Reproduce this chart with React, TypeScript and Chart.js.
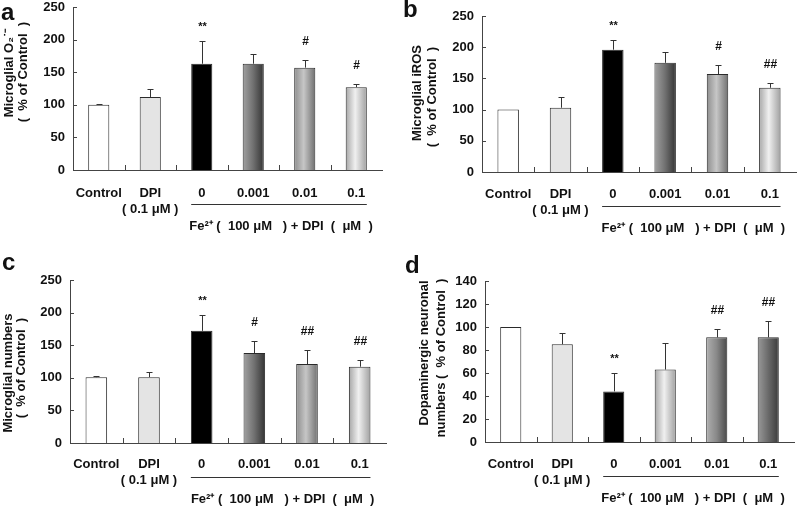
import React, { useEffect, useRef } from "react";
import { Chart, registerables } from "chart.js";

Chart.register(...registerables);

// ---------- data ----------
const categories: (string | string[])[] = ["Control", ["DPI", "( 0.1 μM )"], "0", "0.001", "0.01", "0.1"];
const groupLabel = "Fe²⁺ (  100 μM   ) + DPI  (  μM  )";

const o2Values = [100, 112, 163, 163, 157, 127];
const o2Errors = [1, 13, 35, 15, 11, 5];
const o2Marks = ["", "", "**", "", "#", "#"];
const o2Title = ["Microglial O₂˙⁻", "(  % of Control  )"];
const o2Axis = { max: 250, step: 50 };

const rosValues = [100, 103, 196, 175, 157, 135];
const rosErrors = [0, 17, 15, 18, 15, 7];
const rosMarks = ["", "", "**", "", "#", "##"];
const rosTitle = ["Microglial iROS", "(  % of Control  )"];
const rosAxis = { max: 250, step: 50 };

const numValues = [101, 101, 172, 138, 121, 117];
const numErrors = [1, 8, 25, 19, 22, 10];
const numMarks = ["", "", "**", "#", "##", "##"];
const numTitle = ["Microglial numbers", "(  % of Control  )"];
const numAxis = { max: 250, step: 50 };

const daValues = [100, 85, 44, 63, 91, 91];
const daErrors = [0, 10, 16, 23, 7, 14];
const daMarks = ["", "", "**", "", "##", "##"];
const daTitle = ["Dopaminergic neuronal", "numbers (  % of Control  )"];
const daAxis = { max: 140, step: 20 };

// ---------- styles ----------
const FONT = "'Liberation Sans', Arial, Helvetica, sans-serif";
const W = 400;
const H = 253;

type Grad = { stops: [number, string][] };
type Fill = string | Grad;

const G_DARK: Grad = { stops: [[0, "#a2a2a2"], [0.5, "#707070"], [1, "#333333"]] };
const G_MID: Grad = { stops: [[0, "#8e8e8e"], [0.45, "#c6c6c6"], [1, "#707070"]] };
const G_LIGHT: Grad = { stops: [[0, "#a6a6a6"], [0.45, "#f0f0f0"], [1, "#a0a0a0"]] };
const G_DMID: Grad = { stops: [[0, "#b0b0b0"], [0.5, "#888888"], [1, "#4a4a4a"]] };
const G_DDARK: Grad = { stops: [[0, "#9a9a9a"], [0.5, "#6a6a6a"], [1, "#3a3a3a"]] };

const fillsABC: Fill[] = ["#ffffff", "#e4e4e4", "#000000", G_DARK, G_MID, G_LIGHT];
const fillsD: Fill[] = ["#ffffff", "#e4e4e4", "#000000", G_LIGHT, G_DMID, G_DDARK];

type PanelSpec = {
  letter: string;
  letterPos: [number, number];
  ox: number;
  oy: number;
  area: { left: number; right: number; top: number; bottom: number };
  values: number[];
  errors: number[];
  marks: string[];
  title: string[];
  titlePos: [number, number][];
  axis: { max: number; step: number };
  fills: Fill[];
  labelPad: number;
};

const panels: PanelSpec[] = [
  {
    letter: "a", letterPos: [1, 20], ox: 0, oy: 0,
    area: { left: 73, right: 382, top: 7, bottom: 170 },
    values: o2Values, errors: o2Errors, marks: o2Marks, title: o2Title,
    titlePos: [[9, 73], [23, 72]], axis: o2Axis, fills: fillsABC, labelPad: 15,
  },
  {
    letter: "b", letterPos: [3, 17], ox: 400, oy: 0,
    area: { left: 82, right: 396, top: 16, bottom: 172 },
    values: rosValues, errors: rosErrors, marks: rosMarks, title: rosTitle,
    titlePos: [[17, 93], [32, 97]], axis: rosAxis, fills: fillsABC, labelPad: 14,
  },
  {
    letter: "c", letterPos: [2, 17], ox: 0, oy: 253,
    area: { left: 70, right: 386, top: 27, bottom: 190 },
    values: numValues, errors: numErrors, marks: numMarks, title: numTitle,
    titlePos: [[8, 120], [21, 115]], axis: numAxis, fills: fillsABC, labelPad: 13,
  },
  {
    letter: "d", letterPos: [5, 20], ox: 400, oy: 253,
    area: { left: 85, right: 394, top: 28, bottom: 189 },
    values: daValues, errors: daErrors, marks: daMarks, title: daTitle,
    titlePos: [[24, 100], [41, 105]], axis: daAxis, fills: fillsD, labelPad: 14,
  },
];

const BAR_PCT = 0.41;

function resolveFill(c: any, f: Fill) {
  if (typeof f === "string") return f;
  const chart = c.chart;
  const xs = chart.scales && chart.scales.x;
  if (!xs || !chart.chartArea) return f.stops[1][1];
  const cx = xs.getPixelForValue(c.dataIndex);
  const half = (xs.width / categories.length) * BAR_PCT / 2;
  const g = chart.ctx.createLinearGradient(cx - half, 0, cx + half, 0);
  f.stops.forEach(([o, col]) => g.addColorStop(o, col));
  return g;
}

function makePlugin(p: PanelSpec) {
  return {
    id: "decor",
    afterDatasetsDraw(chart: any) {
      const { ctx } = chart;
      const y = chart.scales.y;
      const meta = chart.getDatasetMeta(0);
      ctx.save();
      ctx.strokeStyle = "#333";
      ctx.lineWidth = 1;
      p.values.forEach((v, i) => {
        const bar = meta.data[i];
        const cx = Math.round(bar.x) + 0.5;
        const e = p.errors[i];
        const top = Math.round(y.getPixelForValue(v + e)) + 0.5;
        if (e > 0) {
          ctx.beginPath();
          ctx.moveTo(cx, y.getPixelForValue(v));
          ctx.lineTo(cx, top);
          ctx.moveTo(cx - 3, top);
          ctx.lineTo(cx + 3, top);
          ctx.stroke();
        }
        const m = p.marks[i];
        if (m) {
          ctx.fillStyle = "#111";
          ctx.textAlign = "center";
          ctx.textBaseline = "alphabetic";
          if (m === "**") {
            ctx.font = `bold 11px ${FONT}`;
            ctx.fillText(m, cx, top - 12);
          } else {
            ctx.font = `bold 12px ${FONT}`;
            ctx.fillText(m, cx, top - 16);
          }
        }
      });
      ctx.restore();
    },
    afterDraw(chart: any) {
      const { ctx, chartArea } = chart;
      const x = chart.scales.x;
      const y = chart.scales.y;
      const meta = chart.getDatasetMeta(0);
      ctx.save();
      ctx.strokeStyle = "#444";
      ctx.lineWidth = 1;
      // y tick marks (inward)
      y.ticks.forEach((t: any) => {
        const py = Math.round(y.getPixelForValue(t.value)) + 0.5;
        ctx.beginPath();
        ctx.moveTo(chartArea.left, py);
        ctx.lineTo(chartArea.left + 4, py);
        ctx.stroke();
      });
      // x tick marks between categories (inward)
      for (let i = 1; i < categories.length; i++) {
        const px = Math.round((x.getPixelForValue(i - 1) + x.getPixelForValue(i)) / 2) + 0.5;
        ctx.beginPath();
        ctx.moveTo(px, chartArea.bottom);
        ctx.lineTo(px, chartArea.bottom - 5);
        ctx.stroke();
      }
      // group bracket
      const b2 = meta.data[2];
      const b5 = meta.data[5];
      const x0 = b2.x - b2.width / 2;
      const x1 = b5.x + b5.width / 2;
      const ly = Math.round(chartArea.bottom + 34) + 0.5;
      ctx.strokeStyle = "#333";
      ctx.beginPath();
      ctx.moveTo(x0, ly);
      ctx.lineTo(x1, ly);
      ctx.stroke();
      ctx.fillStyle = "#111";
      ctx.font = `bold 13px ${FONT}`;
      ctx.textAlign = "center";
      ctx.textBaseline = "middle";
      ctx.fillText(groupLabel, (x0 + x1) / 2 + 2, chartArea.bottom + 56);
      // y titles
      p.title.forEach((line, i) => {
        const [tx, ty] = p.titlePos[i];
        ctx.save();
        ctx.translate(tx, ty);
        ctx.rotate(-Math.PI / 2);
        ctx.font = `bold 13px ${FONT}`;
        ctx.textAlign = "center";
        ctx.textBaseline = "middle";
        ctx.fillText(line, 0, 0);
        ctx.restore();
      });
      // panel letter
      ctx.font = `bold 24px ${FONT}`;
      ctx.textAlign = "left";
      ctx.textBaseline = "alphabetic";
      ctx.fillText(p.letter, p.letterPos[0], p.letterPos[1]);
      ctx.restore();
    },
  };
}

function Panel({ p }: { p: PanelSpec }) {
  const ref = useRef<HTMLCanvasElement>(null);
  useEffect(() => {
    const canvas = ref.current;
    if (!canvas) return;
    const tickFont = { family: FONT, size: 13, weight: "bold" as const, lineHeight: 1.25 };
    const chart = new Chart(canvas, {
      type: "bar",
      data: {
        labels: categories as any,
        datasets: [
          {
            data: p.values,
            backgroundColor: (c: any) => resolveFill(c, p.fills[c.dataIndex]),
            borderColor: "#2a2a2a",
            borderWidth: 1,
            barPercentage: BAR_PCT,
            categoryPercentage: 1,
          },
        ],
      },
      options: {
        animation: false,
        responsive: false,
        maintainAspectRatio: false,
        layout: { padding: { left: 0, top: p.area.top, right: W - p.area.right, bottom: 0 } },
        plugins: { legend: { display: false }, tooltip: { enabled: false }, title: { display: false } },
        scales: {
          x: {
            grid: { display: false, drawTicks: false },
            border: { display: true, color: "#444", width: 1 },
            ticks: { color: "#111", font: tickFont, padding: p.labelPad, maxRotation: 0, autoSkip: false },
            afterFit: (s: any) => {
              s.height = H - p.area.bottom;
              s.paddingLeft = 0;
              s.paddingRight = 0;
            },
          },
          y: {
            min: 0,
            max: p.axis.max,
            grid: { display: false, drawTicks: false },
            border: { display: true, color: "#444", width: 1 },
            ticks: { stepSize: p.axis.step, color: "#111", font: tickFont, padding: 8 },
            afterFit: (s: any) => {
              s.width = p.area.left;
              s.paddingTop = 0;
              s.paddingBottom = 0;
            },
          },
        },
      },
      plugins: [makePlugin(p) as any],
    });
    return () => chart.destroy();
  }, [p]);
  return (
    <canvas
      ref={ref}
      width={W}
      height={H}
      style={{ position: "absolute", left: p.ox, top: p.oy, width: W, height: H, display: "block" }}
    />
  );
}

export default function App() {
  return (
    <div style={{ position: "fixed", left: 0, top: 0, width: 800, height: 506, background: "#fff", overflow: "hidden" }}>
      {panels.map((p) => (
        <Panel key={p.letter} p={p} />
      ))}
    </div>
  );
}
